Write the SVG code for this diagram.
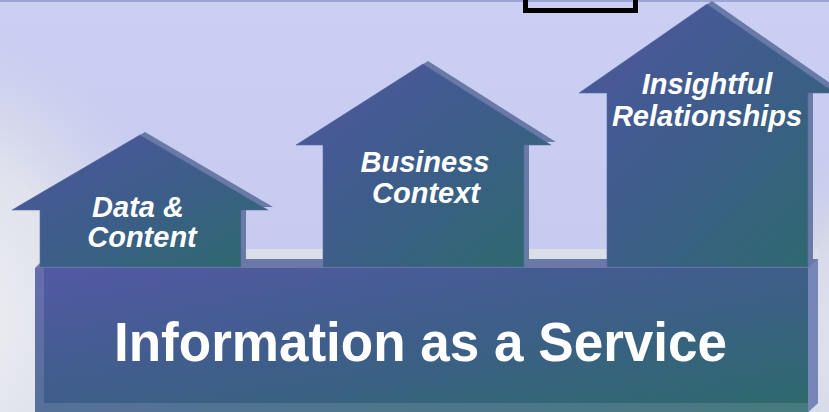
<svg xmlns="http://www.w3.org/2000/svg" width="829" height="412" viewBox="0 0 829 412">
  <defs>
    <linearGradient id="face" x1="0" y1="0" x2="1" y2="1">
      <stop offset="0" stop-color="#4f56a0"/>
      <stop offset="0.5" stop-color="#3d5d8a"/>
      <stop offset="1" stop-color="#2c6a6c"/>
    </linearGradient>
    <linearGradient id="barface" x1="0" y1="0" x2="1" y2="1">
      <stop offset="0" stop-color="#5259a4"/>
      <stop offset="0.5" stop-color="#3e5e8a"/>
      <stop offset="1" stop-color="#2d696d"/>
    </linearGradient>
    <radialGradient id="glowL" cx="-100" cy="320" r="300" gradientUnits="userSpaceOnUse">
      <stop offset="0" stop-color="#f6f6f6" stop-opacity="1"/>
      <stop offset="0.6" stop-color="#e4e6ec" stop-opacity="0.85"/>
      <stop offset="1" stop-color="#d8dbe6" stop-opacity="0"/>
    </radialGradient>
    <radialGradient id="glowR" cx="900" cy="340" r="200" gradientUnits="userSpaceOnUse">
      <stop offset="0" stop-color="#eceef0" stop-opacity="1"/>
      <stop offset="0.6" stop-color="#dadde6" stop-opacity="0.8"/>
      <stop offset="1" stop-color="#d0d4e6" stop-opacity="0"/>
    </radialGradient>
    <linearGradient id="bgv" x1="0" y1="0" x2="0" y2="1">
      <stop offset="0" stop-color="#cacff3"/>
      <stop offset="1" stop-color="#c4c8ec"/>
    </linearGradient>
  </defs>
  <style>
    .side { fill: #6a7aa7; }
    .front { fill: url(#face); stroke: #5c6ca4; stroke-width: 1; stroke-opacity: 0.6; }
    .lbl { font-family: "Liberation Sans", Arial, sans-serif; font-weight: bold; font-style: italic; font-size: 29px; fill: #ffffff; text-anchor: middle; }
    .main { font-family: "Liberation Sans", Arial, sans-serif; font-weight: bold; font-size: 56px; fill: #ffffff; text-anchor: middle; }
  </style>

  <g id="background">
    <rect x="0" y="0" width="829" height="412" fill="url(#bgv)"/>
    <rect x="0" y="0" width="829" height="412" fill="url(#glowL)"/>
    <rect x="0" y="0" width="829" height="412" fill="url(#glowR)"/>
    <rect x="0" y="0" width="829" height="2" fill="#9ca6d6"/>
    <rect x="525.5" y="-10" width="110" height="20.5" fill="none" stroke="#000000" stroke-width="5"/>
    <rect x="44" y="249" width="774" height="10" fill="#dadee6"/>
  </g>

  <g id="base-bar">
    <polygon points="35,268 44,259 818,259 818,403 808,412 35,412" fill="#6b78a8"/>
    <polygon points="808,268 818,259 818,403 808,412" fill="#7686b8"/>
    <rect x="35" y="268" width="773" height="144" fill="url(#barface)"/>
    <rect x="35" y="268" width="773" height="144" fill="#ffffff" fill-opacity="0.12"/>
    <rect x="44" y="268" width="764" height="135" fill="url(#barface)"/>
    <text class="main" x="420.5" y="361" textLength="613" lengthAdjust="spacingAndGlyphs">Information as a Service</text>
  </g>

  <g id="house-data">
    <polygon class="side" points="17,207 145,132 273,207 246,207 246,264 45,264 45,207"/>
    <polygon class="front" points="12,210 140,135 268,210 241,210 241,267 40,267 40,210"/>
    <text class="lbl" x="138" y="217">Data &amp;</text>
    <text class="lbl" x="142" y="247">Content</text>
  </g>

  <g id="house-business">
    <polygon class="side" points="301,142 428,61 556,142 529,142 529,264 328,264 328,142"/>
    <polygon class="front" points="296,145 423,64 551,145 524,145 524,267 323,267 323,145"/>
    <text class="lbl" x="425" y="172">Business</text>
    <text class="lbl" x="426" y="203">Context</text>
  </g>

  <g id="house-insight">
    <polygon class="side" points="584,90 712,1 840,90 813,90 813,264 612,264 612,90"/>
    <polygon class="front" points="579,93 707,4 835,93 808,93 808,267 607,267 607,93"/>
    <text class="lbl" x="707" y="94">Insightful</text>
    <text class="lbl" x="707" y="126">Relationships</text>
  </g>

  <g id="connectors"/>
</svg>
